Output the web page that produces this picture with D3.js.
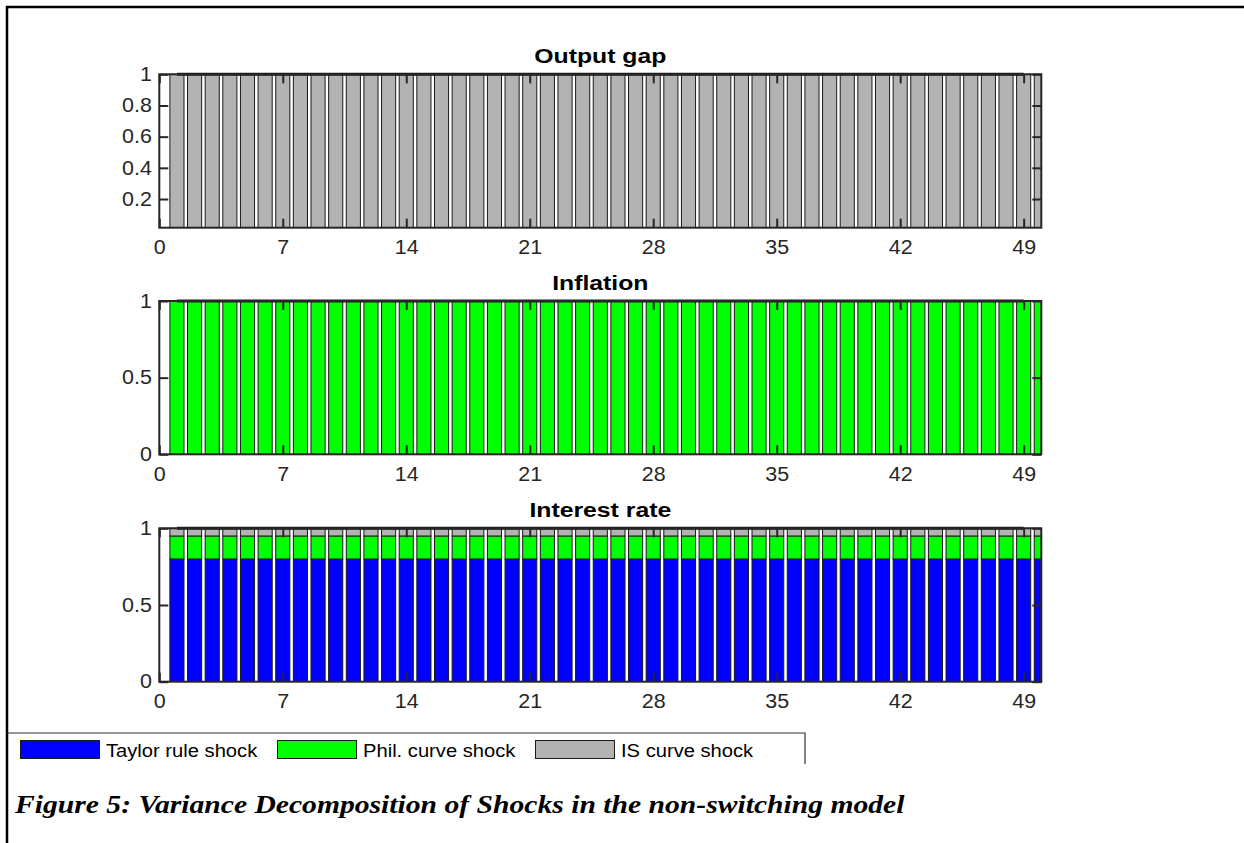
<!DOCTYPE html>
<html>
<head>
<meta charset="utf-8">
<script src="https://cdn.jsdelivr.net/npm/d3@7"></script>
<style>
  html, body { margin: 0; padding: 0; background: #fff; }
  svg { display: block; }
</style>
</head>
<body>
<svg id="fig" width="1244" height="843"></svg>
<script>
// Forecast horizons (periods 1..50)
const periods = [1,2,3,4,5,6,7,8,9,10,11,12,13,14,15,16,17,18,19,20,21,22,23,24,25,
  26,27,28,29,30,31,32,33,34,35,36,37,38,39,40,41,42,43,44,45,46,47,48,49,50];

const xTicks = [0, 7, 14, 21, 28, 35, 42, 49];

const shockNames = ["Taylor rule shock", "Phil. curve shock", "IS curve shock"];

// Output gap: share of each shock
const outTaylor = [0,0,0,0,0,0,0,0,0,0,0,0,0,0,0,0,0,0,0,0,0,0,0,0,0,0,0,0,0,0,0,0,0,0,0,0,0,0,0,0,0,0,0,0,0,0,0,0,0,0];
const outPhil   = [0,0,0,0,0,0,0,0,0,0,0,0,0,0,0,0,0,0,0,0,0,0,0,0,0,0,0,0,0,0,0,0,0,0,0,0,0,0,0,0,0,0,0,0,0,0,0,0,0,0];
const outIS     = [1,1,1,1,1,1,1,1,1,1,1,1,1,1,1,1,1,1,1,1,1,1,1,1,1,1,1,1,1,1,1,1,1,1,1,1,1,1,1,1,1,1,1,1,1,1,1,1,1,1];

// Inflation: share of each shock
const infTaylor = [0,0,0,0,0,0,0,0,0,0,0,0,0,0,0,0,0,0,0,0,0,0,0,0,0,0,0,0,0,0,0,0,0,0,0,0,0,0,0,0,0,0,0,0,0,0,0,0,0,0];
const infPhil   = [1,1,1,1,1,1,1,1,1,1,1,1,1,1,1,1,1,1,1,1,1,1,1,1,1,1,1,1,1,1,1,1,1,1,1,1,1,1,1,1,1,1,1,1,1,1,1,1,1,1];
const infIS     = [0,0,0,0,0,0,0,0,0,0,0,0,0,0,0,0,0,0,0,0,0,0,0,0,0,0,0,0,0,0,0,0,0,0,0,0,0,0,0,0,0,0,0,0,0,0,0,0,0,0];

// Interest rate: share of each shock
const rateTaylor = [0.80,0.80,0.80,0.80,0.80,0.80,0.80,0.80,0.80,0.80,0.80,0.80,0.80,0.80,0.80,0.80,0.80,0.80,0.80,0.80,0.80,0.80,0.80,0.80,0.80,
                    0.80,0.80,0.80,0.80,0.80,0.80,0.80,0.80,0.80,0.80,0.80,0.80,0.80,0.80,0.80,0.80,0.80,0.80,0.80,0.80,0.80,0.80,0.80,0.80,0.80];
const ratePhil   = [0.15,0.15,0.15,0.15,0.15,0.15,0.15,0.15,0.15,0.15,0.15,0.15,0.15,0.15,0.15,0.15,0.15,0.15,0.15,0.15,0.15,0.15,0.15,0.15,0.15,
                    0.15,0.15,0.15,0.15,0.15,0.15,0.15,0.15,0.15,0.15,0.15,0.15,0.15,0.15,0.15,0.15,0.15,0.15,0.15,0.15,0.15,0.15,0.15,0.15,0.15];
const rateIS     = [0.05,0.05,0.05,0.05,0.05,0.05,0.05,0.05,0.05,0.05,0.05,0.05,0.05,0.05,0.05,0.05,0.05,0.05,0.05,0.05,0.05,0.05,0.05,0.05,0.05,
                    0.05,0.05,0.05,0.05,0.05,0.05,0.05,0.05,0.05,0.05,0.05,0.05,0.05,0.05,0.05,0.05,0.05,0.05,0.05,0.05,0.05,0.05,0.05,0.05,0.05];

const outYTicks  = [0.2, 0.4, 0.6, 0.8, 1];
const infYTicks  = [0, 0.5, 1];
const rateYTicks = [0, 0.5, 1];

const colors = ["#0000ff", "#00ff00", "#b3b3b3"];

const panels = [
  { title: "Output gap",    series: [outTaylor, outPhil, outIS],    yTicks: outYTicks,  yMin: 0.016, top: 74.3,  bottom: 227.7 },
  { title: "Inflation",     series: [infTaylor, infPhil, infIS],    yTicks: infYTicks,  yMin: 0,     top: 301,   bottom: 454.3 },
  { title: "Interest rate", series: [rateTaylor, ratePhil, rateIS], yTicks: rateYTicks, yMin: 0,     top: 528.3, bottom: 681.7 }
];

const svg = d3.select("#fig");
const left = 159.3, right = 1041.3;
const ink = "#262626";
const sans = "'Liberation Sans', Arial, Helvetica, sans-serif";

// the exported figure's lettering is slightly wide; stretch glyphs horizontally
const tickFont = 19.5, tickStretch = 1.1;
const titleFont = 21, titleStretch = 1.18;
const legendFont = 18.5, legendStretch = 1.09;
const captionFont = 26, captionStretch = 1.14;

function stretchedText(parent, x, y, str, size, stretch) {
  return parent.append("text")
    .attr("transform", `translate(${x},${y}) scale(${stretch},1)`)
    .style("font-size", size + "px")
    .text(str);
}

// Outer frame of the figure
svg.append("path")
  .attr("d", "M7,843 V7 H1244")
  .attr("fill", "none").attr("stroke", "#000").attr("stroke-width", 2.5);

const x = d3.scaleLinear().domain([0, 50]).range([left, right]);
const barW = x(0.8) - x(0);

panels.forEach((p, pi) => {
  const y = d3.scaleLinear().domain([p.yMin, 1]).range([p.bottom, p.top]);
  const g = svg.append("g");

  const clipId = "clip" + pi;
  svg.append("clipPath").attr("id", clipId)
    .append("rect").attr("x", left).attr("y", p.top - 2)
    .attr("width", right - left).attr("height", p.bottom - p.top + 2);

  // stacked shares per period
  const rows = periods.map((t, i) => {
    const row = { t };
    shockNames.forEach((n, k) => row[n] = p.series[k][i]);
    return row;
  });
  const stacked = d3.stack().keys(shockNames)(rows);

  const bars = g.append("g").attr("clip-path", `url(#${clipId})`);
  stacked.forEach((layer, k) => {
    bars.append("g").selectAll("rect")
      .data(layer.filter(d => d[1] - d[0] > 0))
      .join("rect")
      .attr("x", d => x(d.data.t) - barW / 2)
      .attr("width", barW)
      .attr("y", d => y(Math.min(d[1], 1)))
      .attr("height", d => y(Math.max(d[0], p.yMin)) - y(Math.min(d[1], 1)))
      .attr("fill", colors[k])
      .attr("stroke", "#1a1a1a")
      .attr("stroke-width", 1);
  });

  // total share line over the horizon
  const totals = rows.filter(r => r.t <= 49).map(r => ({ t: r.t, v: shockNames.reduce((s, n) => s + r[n], 0) }));
  g.append("path")
    .datum(totals)
    .attr("d", d3.line().x(d => x(d.t)).y(d => y(Math.min(d.v, 1))))
    .attr("fill", "none").attr("stroke", "#1a1a1a").attr("stroke-width", 3);

  // axes with inward ticks
  const axB = g.append("g").attr("transform", `translate(0,${p.bottom})`)
    .call(d3.axisBottom(x).tickValues(xTicks).tickSize(-9).tickPadding(12.5).tickFormat(d3.format("d")));
  const axT = g.append("g").attr("transform", `translate(0,${p.top})`)
    .call(d3.axisTop(x).tickValues(xTicks).tickSize(-9).tickFormat(""));
  const axL = g.append("g").attr("transform", `translate(${left},0)`)
    .call(d3.axisLeft(y).tickValues(p.yTicks).tickSize(-9).tickPadding(7.5).tickFormat(d3.format("")));
  const axR = g.append("g").attr("transform", `translate(${right},0)`)
    .call(d3.axisRight(y).tickValues(p.yTicks).tickSize(-9).tickFormat(""));

  [axB, axT, axL, axR].forEach(a => {
    a.select(".domain").remove();
    a.selectAll("line").attr("stroke", ink).attr("stroke-width", 2);
    a.selectAll("text").attr("fill", ink)
      .style("font-family", sans).style("font-size", tickFont + "px");
  });
  // widen tick labels about their anchor
  axB.selectAll("text").attr("transform", `scale(${tickStretch},1)`);
  axL.selectAll("text")
    .attr("x", -7.5 / tickStretch)
    .attr("transform", `scale(${tickStretch},1)`);

  // axes box
  g.append("rect")
    .attr("x", left).attr("y", p.top)
    .attr("width", right - left).attr("height", p.bottom - p.top)
    .attr("fill", "none").attr("stroke", ink).attr("stroke-width", 2);

  stretchedText(g, (left + right) / 2, p.top - 11, p.title, titleFont, titleStretch)
    .attr("text-anchor", "middle")
    .attr("fill", "#000")
    .style("font-family", sans)
    .style("font-weight", "bold");
});

// Legend
svg.append("path")
  .attr("d", "M7,733 H805 V764")
  .attr("fill", "none").attr("stroke", "#333").attr("stroke-width", 1.2);

const legendX = [20, 277, 535];
shockNames.forEach((n, k) => {
  svg.append("rect")
    .attr("x", legendX[k] + 0.5).attr("y", 740.5)
    .attr("width", 79).attr("height", 18)
    .attr("fill", colors[k]).attr("stroke", "#1a1a1a").attr("stroke-width", 1);
  stretchedText(svg, legendX[k] + 86, 757, n, legendFont, legendStretch)
    .attr("fill", "#000")
    .style("font-family", sans);
});

// Caption
stretchedText(svg, 15, 813, "Figure 5: Variance Decomposition of Shocks in the non-switching model", captionFont, captionStretch)
  .attr("fill", "#000")
  .style("font-family", "'Liberation Serif', 'Times New Roman', serif")
  .style("font-weight", "bold").style("font-style", "italic");
</script>
</body>
</html>
